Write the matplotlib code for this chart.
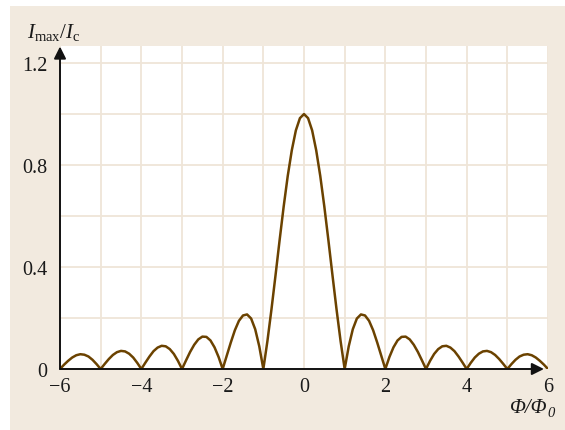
import matplotlib
matplotlib.use("Agg")
import matplotlib.pyplot as plt
from matplotlib.patches import Rectangle, FancyArrowPatch
import numpy as np

# half-curve values (symmetric about 0), x step 0.1 from 0 to 6
x_half = [round(0.1 * i, 1) for i in range(61)]
y_half = [1.000, 0.984, 0.936, 0.858, 0.757, 0.637, 0.505, 0.368, 0.234, 0.109,
          0.000, 0.089, 0.156, 0.198, 0.214, 0.210, 0.189, 0.152, 0.104, 0.052,
          0.000, 0.047, 0.085, 0.112, 0.126, 0.127, 0.116, 0.095, 0.067, 0.034,
          0.000, 0.032, 0.059, 0.078, 0.089, 0.091, 0.084, 0.070, 0.049, 0.025,
          0.000, 0.024, 0.045, 0.060, 0.069, 0.071, 0.066, 0.055, 0.039, 0.020,
          0.000, 0.019, 0.036, 0.049, 0.056, 0.058, 0.054, 0.045, 0.032, 0.017,
          0.000]
x_ticks = [-6, -4, -2, 0, 2, 4, 6]
x_ticklabels = ["\u22126", "\u22124", "\u22122", "0", "2", "4", "6"]
y_ticks = [0, 0.4, 0.8, 1.2]
y_ticklabels = ["0", "0.4", "0.8", "1.2"]

x = [-v for v in x_half[:0:-1]] + x_half
y = y_half[:0:-1] + y_half

plt.rcParams['mathtext.fontset'] = 'custom'
plt.rcParams['mathtext.rm'] = 'Liberation Serif'
plt.rcParams['mathtext.it'] = 'Liberation Serif:italic'
plt.rcParams['mathtext.bf'] = 'Liberation Serif:bold'
plt.rcParams['font.family'] = ['Liberation Serif', 'DejaVu Serif']

W, H = 565, 431
fig = plt.figure(figsize=(W / 100, H / 100), dpi=100)
fig.patch.set_facecolor('white')
beige = '#f2eadf'
fig.patches.append(Rectangle((10 / W, 0), 1 - 10 / W, 1 - 7 / H, transform=fig.transFigure,
                             facecolor=beige, edgecolor='none', zorder=-10))

ax = fig.add_axes([60 / W, (H - 370) / H, (548 - 60) / W, (370 - 47) / H])
ax.set_facecolor('white')
ax.set_xlim(-6, 6)
ax.set_ylim(0, 1.267)
for s in ax.spines.values():
    s.set_visible(False)

gc = '#efe5d8'
for gx in range(-6, 7):
    ax.axvline(gx, color=gc, lw=1.3, zorder=0)
for gy in np.arange(0, 1.21, 0.2):
    ax.axhline(gy, color=gc, lw=1.3, zorder=0)

ax.plot(x, y, color='#6b4200', lw=1.8, zorder=3, solid_joinstyle='round')

ax.set_xticks(x_ticks)
ax.set_xticklabels(x_ticklabels)
ax.set_yticks(y_ticks)
ax.set_yticklabels(y_ticklabels)
ax.tick_params(length=0, labelsize=14.5, colors='#1a1a1a', pad=6)
ax.tick_params(axis='y', pad=9)

# axis arrows
ax.add_patch(FancyArrowPatch((-6, 0), (5.9, 0), arrowstyle='-|>', mutation_scale=18,
                             color='#111111', lw=1.4, clip_on=False, zorder=4,
                             shrinkA=0, shrinkB=0))
ax.add_patch(FancyArrowPatch((-6, 0), (-6, 1.265), arrowstyle='-|>', mutation_scale=18,
                             color='#111111', lw=1.4, clip_on=False, zorder=4,
                             shrinkA=0, shrinkB=0))

fig.text(27 / W, 1 - 38 / H, r'$I_{\mathrm{max}}/I_{\mathrm{c}}$', fontsize=15,
         ha='left', va='baseline', color='#1a1a1a')
fig.text(547 / W, 1 - 413 / H, 'Φ/Φ', fontsize=15, style='italic',
         ha='right', va='baseline', color='#1a1a1a')
fig.text(547 / W, 1 - 417 / H, '0', fontsize=10.5, style='italic',
         ha='left', va='baseline', color='#1a1a1a')

fig.savefig('out.png', dpi=100, facecolor=fig.get_facecolor())
